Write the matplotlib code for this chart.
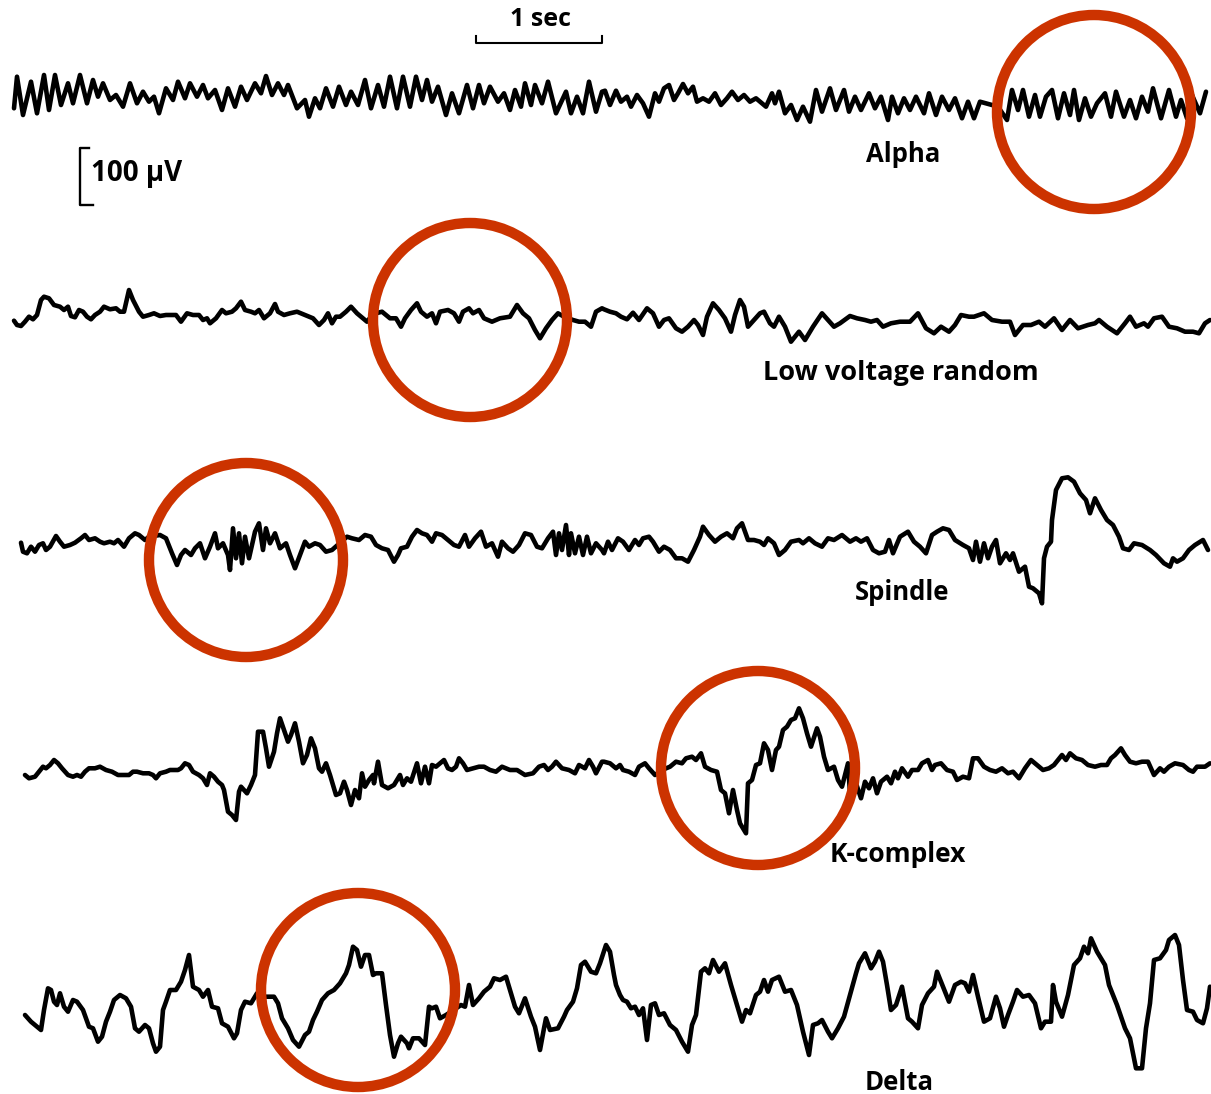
import numpy as np
import matplotlib
matplotlib.use("Agg")
import matplotlib.pyplot as plt
from matplotlib.patches import Circle

# ---------------- data: EEG traces ----------------
# each trace: (time in px along the page, deflection in px, upward positive)
alpha = [(14,-11.3),(17,20.3),(23,-18),(31,15.3),(37,-16.3),(44,22),(49,-13),(55,22),(61,-8),(68,13.7),(73,-6.3),(80,22),(87,-6.3),(93,17),(98,0.3),(103,13.7),(110,-3),(116,2),(123,-9.7),(130,13.7),(137,-6.3),(143,5.3),(149,-4.7),(154,0.3),(159,-16.3),(166,8.7),(173,-3),(178,15.3),(185,-1.3),(190,13.7),(197,0.3),(203,12),(208,-1.3),(215,7),(222,-13),(228,8.7),(235,-9.7),(241,10.3),(247,-3),(255,13.7),(261,3.7),(266,21),(272,2),(278,13.7),(284,2),(288,12),(297,-11.3),(305,-3),(309,-19.7),(315,-1.3),(320,-11.3),(326,8.7),(333,-9.7),(339,10.3),(346,-8),(351,5.3),(358,-8),(365,17),(371,-11.3),(378,12),(384,-9.7),(390,20.3),(397,-11.3),(403,20.3),(410,-9.7),(416,20.3),(422,-3),(427,17),(432,-4.7),(438,10.3),(446,-18),(452,3.7),(459,-16.3),(467,12),(473,-11.3),(479,12),(484,-6.3),(490,10.3),(498,-4.7),(504,3.7),(510,-13),(515,7),(521,-9.7),(525,13.7),(531,-8),(535,12),(542,-6.3),(548,15.3),(556,-16.3),(566,5.3),(571,-16.3),(577,0.3),(583,-16.3),(589,15.3),(596,-14.7),(602,5.3),
         (605,6.3),(610,-8),(616,6.3),(621,-4.7),(627,0.3),(631,-9.7),(637,2),(643,-6.3),(649,-19.7),(655,3.7),(659,-4.7),(664,8.7),(669,12),(674,-3),(678,3.7),(683,13),(688,3.7),(693,10.3),(697,-4.7),(703,-1.3),(709,-4.7),(715,3.7),(721,-8),(727,-1.3),(732,5.3),(738,-3),(744,2),(750,-4.7),(756,-1.3),(762,-6.3),(766,-9.7),(772,3.7),(775,-6.3),(779,5.3),(785,-16.3),(791,-8),(797,-23),(803,-9.7),(810,-24.7),(816,7),(822,-14.7),(830,8.7),(836,-13),(844,7),(849,-14.7),(855,0.3),(861,-13),(869,3.7),(875,-11.3),(881,0.3),(888,-23),(892,0.3),(898,-16.3),(904,-1.3),(910,-13),(916,0.3),(924,-16.3),(929,3.7),(936,-18),(942,0.3),(949,-13),(955,-1.3),(962,-21.3),(968,-4.7),(974,-21.3),(980,-4.7),(986,-6.3),(992,-8),(998,-9.7),(1007,-23),(1012,7),(1018,-13),(1023,7),(1029,-19.7),(1035,2),(1040,-19.7),(1046,0.3),(1052,7),(1058,-21.3),(1064,3.7),(1070,-18),(1074,7),(1079,-23),(1085,-1.3),(1091,-19.7),(1097,-6.3),(1105,3.7),(1111,-19.7),(1116,5.3),(1124,-19.7),(1130,-3),(1136,-21.3),(1142,0.3),(1148,-14.7),(1153,8.7),(1161,-21.3),(1169,7),(1176,-19.7),(1181,-3),(1187,-21.3),(1192,2),(1200,-16.3),(1206,5.3)]

low_voltage = [(14,-2.7),(17,-7),(21,-8),(25,-3.7),(29,1.3),(33,-1.3),(37,3),(41,18),(44,21.3),(49,19.7),(54,13),(60,11.3),(64,8),(68,11.3),(71,2),(75,0.7),(79,8),(83,6.3),(87,1.3),(91,-1.3),(95,3),(100,6.3),(104,11.3),(110,8.7),(116,9.7),(120,6.3),(124,6.3),(129,28),(133,18),(139,6.3),(143,1.3),(149,3),(154,4.7),(160,2),(166,3),(176,3),(181,-3.7),(187,4.7),(193,3),(199,3),(203,-2),(207,-0.3),(210,-5.3),(216,-0.3),(222,8),(226,4.7),(232,6.3),(236,9.7),(241,16.3),(245,8),(251,6.3),(255,4.7),(259,8),(264,-0.3),(270,4.7),(275,14),(278,6.3),(284,3),(290,4.7),(297,6.3),(305,3),(313,-0.3),(319,-7),(324,-2),(328,4.7),(332,-5.3),(336,1.3),(340,1.3),(346,6.3),(351,11.3),(357,4.7),(363,-0.3),(367,-3.7),(371,1.3),(376,4.7),(382,6.3),(390,-0.3),(396,-0.3),(401,-8.7),(405,-0.3),(411,8),(417,14.7),(421,6.3),(427,1.3),(432,4.7),(436,-5.3),(440,6.3),(448,8),(454,4.7),(459,-3.7),(463,6.3),(469,9.7),(473,4.7),(479,8),(484,-0.3),(492,-3.7),(500,-0.3),(510,1.3),(517,13),(523,4.7),(529,-0.3),(535,-12),(540,-20.3),(546,-10.3),(552,-2),(558,4.7),(564,1.3),(573,-2),(579,-3.7),(585,-3.7),(591,-8.7),(596,6.3),(602,9.7),
               (604,8.7),(610,6.3),(616,4.7),(621,1.3),(627,-1.3),(633,5.3),(639,-2),(647,9.7),(653,4.7),(659,-8.7),(664,-2),(669,-0.3),(676,-10.3),(682,-13.7),(688,-8.7),(694,-2),(698,-7),(703,-17),(707,1.3),(713,14.7),(719,8),(725,-0.3),(731,-13.7),(735,3),(740,18),(744,11.3),(748,-8.7),(754,-2),(760,4.7),(764,6.3),(770,-5.3),(774,-8.7),(779,1.3),(785,-8.7),(791,-23.7),(799,-13.7),(805,-22),(813,-8.7),(822,4.7),(828,-2),(834,-8.7),(840,-5.3),(850,2),(857,-0.3),(865,-2),(871,-3.7),(877,-2),(883,-8.7),(891,-5.3),(900,-3.7),(910,-3.7),(918,4.7),(926,-10.3),(934,-15.3),(941,-8.7),(949,-13.7),(955,-7),(961,3),(969,1.3),(974,1.3),(984,4.7),(992,-2),(1002,-3.7),(1010,-3.7),(1015,-17),(1023,-7),(1031,-7),(1039,-3.7),(1045,-8.7),(1054,-0.3),(1062,-12),(1070,-2),(1078,-10.3),(1088,-7),(1095,-5.3),(1099,-2),(1107,-8.7),(1117,-15.3),(1125,-5.3),(1130,1.3),(1136,-8.7),(1144,-5.3),(1148,-8.7),(1154,-0.3),(1162,1.3),(1169,-8.7),(1177,-10.3),(1185,-13.7),(1193,-13.7),(1199,-15.3),(1205,-5.3),(1210,-2)]

spindle = [(21,2.3),(23,-6.7),(27,-8.3),(31,-1.7),(35,-6.7),(39,0),(43,1.7),(46,-5),(50,-1.7),(56,9),(60,3.3),(64,-1.7),(70,0),(75,2.3),(81,6.7),(85,10),(89,5),(95,6.7),(100,3.3),(104,1.7),(110,3.3),(114,1.7),(118,5),(124,-1.7),(129,6.7),(135,11.7),(139,10),(145,5),(149,8.3),(160,10),(166,6.7),(172,-8.3),(177,-20),(181,-10),(185,-5),(191,-10),(195,-3.3),(200,1.7),(205,-13.3),(210,-1.7),(215,11.7),(218,-3.3),(223,1.7),(228,-10),(230,-25),(233,16.7),(236,-13.3),(239,11.7),(242,-18.3),(245,8.3),(249,-13.3),(255,13.3),(259,21.7),(263,-5),(266,16.7),(270,1.7),(275,11.7),(280,-3.3),(286,1.7),(290,-10),(295,-23.3),(300,-10),(305,3.3),(309,-1.7),(315,1.7),(320,0),(326,-6.7),(332,-5),(347,8.3),(352,6.7),(359,5),(365,10),(371,8.3),(376,0),(382,-3.3),(388,-5),(394,-16.7),(398,-10),(401,-3.3),(407,-1.7),(412,8.3),(417,15),(422,11.7),(427,10),(432,3.3),(436,11.7),(442,10),(448,5),(454,0),(459,-1.7),(465,10),(469,-1.7),(475,6.7),(481,13.3),(486,-1.7),(492,1.7),(498,-11.7),(502,3.3),(508,-3.3),(513,-6.7),(519,0),(525,11.7),(531,10),(537,-1.7),(542,-3.3),(548,6.7),(553,13.3),(556,-10),(559,11.7),(562,-5),(566,20),(569,-10),(571,11.7),(575,-8.3),(579,8.3),(583,-10),(587,8.3),(591,-8.3),(596,1.7),(602,-5),
           (604,-8.3),(608,3.3),(612,-5),(618,6.7),(623,3.3),(629,-5),(635,5),(639,0),(643,6.7),(649,8.3),(653,3.3),(659,-6.7),(664,-1.7),(670,-5),(676,-13.3),(682,-13.3),(688,-16.7),(694,-5),(700,8.3),(703,18.3),(709,10),(715,3.3),(721,8.3),(727,11.7),(733,6.7),(737,16.7),(742,21.7),(748,5),(754,5),(760,3.3),(764,0),(768,6.7),(774,1.7),(779,-10),(785,-5),(791,3.3),(799,5),(803,1.7),(809,6.7),(815,1.7),(822,-1.7),(828,6.7),(834,5),(842,10),(850,3.3),(856,6.7),(861,3.3),(867,6.7),(873,-5),(879,-8.3),(885,-6.7),(889,5),(893,-8.3),(900,8.3),(908,13.3),(914,3.3),(920,-1.7),(926,-8.3),(932,10),(937,13.3),(943,16.7),(949,15),(955,5),(963,0),(969,-3.3),(973,-15),(976,3.3),(980,-16.7),(984,1.7),(988,-13.3),(992,-1.7),(996,5),(1000,-18.3),(1006,-8.3),(1010,-15),(1013,-8.3),(1019,-26.7),(1025,-21.7),(1029,-41.7),(1033,-43.3),(1039,-48.3),(1042,-58.3),(1044,-13.3),(1047,-1.7),(1051,3.3),(1052,25),(1056,55),(1062,66.7),(1068,67.7),(1074,63.3),(1080,51.7),(1086,45),(1090,31.7),(1095,46.7),(1101,35),(1107,25),(1113,20),(1119,8.3),(1123,-3.3),(1129,-5),(1134,1.7),(1142,0),(1150,-5),(1156,-10),(1164,-18.3),(1170,-21.7),(1173,-13.3),(1177,-16.7),(1183,-13.3),(1189,-5),(1195,0),(1203,5),(1208,-5)]

k_complex = [(25,-5),(29,-8.3),(35,-6.7),(39,-1.7),(43,3.3),(46,1.7),(50,5),(54,10),(58,6.7),(62,1.7),(68,-5),(73,-6.7),(77,-5),(81,-6.7),(85,-1.7),(89,1.7),(95,1.7),(100,3.3),(106,0),(112,-1.7),(118,-5),(124,-5),(129,-5),(133,-1.7),(137,-1.7),(143,-3.3),(149,-3.3),(153,-5),(156,-8.3),(160,-3.3),(166,-1.7),(170,0),(174,0),(178,0),(181,1.7),(185,6.7),(189,5),(193,-1.7),(199,-5),(203,-8.3),(207,-15),(210,-3.3),(214,-6.7),(218,-11.7),(222,-15),(224,-20),(228,-41.7),(232,-45),(236,-50),(239,-21.7),(241,-16.7),(247,-23.3),(251,-15),(255,-5),(258,38.3),(263,38.3),(266,21.7),(269,3.3),(274,18.3),(277,36.7),(280,51.7),(284,40),(288,28.3),(291,35),(295,46.7),(299,28.3),(303,6.7),(307,15),(311,31.7),(315,21.7),(319,1.7),(322,-1.7),(326,6.7),(330,-5),(336,-25),(340,-23.3),(344,-11.7),(347,-20),(351,-35),(355,-20),(359,-28.3),(362,-3.3),(365,-16.7),(369,-10),(373,-5),(374,-13.3),(378,8.3),(382,-15),(388,-18.3),(394,-15),(400,-5),(403,-15),(407,-8.3),(411,-11.7),(417,6.7),(421,-13.3),(425,3.3),(429,-13.3),(432,5),(436,3.3),(440,6.7),(444,10),(448,1.7),(452,0),(456,3.3),(459,11.7),(463,6.7),(467,0),(473,1.7),(479,3.3),(484,3.3),(490,0),(496,-1.7),(502,3.3),(510,0),(517,0),(525,-5),(533,-3.3),(539,3.3),(544,5),(548,0),(552,3.3),(556,8.3),(562,1.7),(569,0),(575,-3.3),(579,5),(585,1.7),(589,10),(593,3.3),(596,-3.3),(602,8.3),
             (604,8.3),(610,6.7),(616,1.7),(620,5),(623,0),(629,-1.7),(635,-5),(639,3.3),(645,6.7),(649,1.7),(655,-5),(662,0),(670,3.3),(676,8.3),(682,6.7),(686,11.7),(692,13.3),(696,10),(701,16.7),(705,3.3),(711,0),(717,-1.7),(721,-20),(725,-23.3),(729,-43.3),(733,-20),(737,-40),(740,-53.3),(746,-63.3),(748,-13.3),(752,-10),(756,5),(760,6.7),(764,26.7),(768,20),(772,0),(776,20),(779,23.3),(783,40),(787,43.3),(791,50),(795,51.7),(799,61.7),(803,51.7),(807,36.7),(811,23.3),(817,41.7),(820,33.3),(824,13.3),(828,0),(834,3.3),(838,-10),(842,-16.7),(848,6.7),(850,-23.3),(856,-13.3),(861,-28.3),(865,-11.7),(869,-18.3),(873,-8.3),(877,-23.3),(881,-11.7),(887,-6.7),(891,-13.3),(895,-1.7),(898,-8.3),(902,1.7),(908,-6.7),(912,0),(918,0),(922,6.7),(928,10),(932,0),(935,5),(941,6.7),(947,0),(953,-1.7),(957,-10),(963,-6.7),(969,-8.3),(973,11.7),(978,11.7),(984,3.3),(990,0),(996,-1.7),(1002,1.7),(1008,-3.3),(1013,-1.7),(1019,-8.3),(1025,1.7),(1031,10),(1037,5),(1043,0),(1049,1.7),(1054,5),(1062,15),(1066,10),(1070,16.7),(1076,11.7),(1082,10),(1088,5),(1095,3.3),(1101,5),(1107,5),(1111,11.7),(1115,15),(1121,21.7),(1125,15),(1130,8.3),(1136,6.7),(1142,8.3),(1148,8.3),(1154,-5),(1160,1.7),(1164,-1.7),(1169,3.3),(1175,6.7),(1183,5),(1189,0),(1193,-1.7),(1197,3.3),(1205,3.3),(1210,6.7)]

delta = [(25,-5),(31,-11.7),(37,-16.7),(41,-20),(44,0),(48,21.7),(51,20),(54,8.3),(57,5),(60,16.7),(64,3.3),(68,-1.7),(73,10),(77,8.3),(83,0),(89,-16.7),(93,-18.3),(98,-31.7),(102,-26.7),(106,-11.7),(110,-1.7),(114,10),(120,15),(126,11.7),(131,3.3),(135,-18.3),(139,-21.7),(145,-15),(149,-18.3),(153,-33.3),(156,-41.7),(160,-36.7),(163,0),(166,8.3),(170,20),(176,20),(181,28.3),(185,40),(189,55),(193,23.3),(199,20),(203,13.3),(208,20),(212,3.3),(218,1.7),(222,-13.3),(228,-16.7),(234,-28.3),(237,-23.3),(241,0),(245,8.3),(251,6.7),(257,16.7),(263,13.3),(274,13.3),(278,6.7),(282,-8.3),(288,-18.3),(293,-30),(299,-36.7),(305,-25),(309,-21.7),(313,-10),(317,-1.7),(322,10),(328,16.7),(334,20),(340,26.7),(346,36.7),(349,45),(353,63.3),(357,60),(361,43.3),(365,55),(369,55),(373,35),(376,36.7),(382,36.7),(386,5),(390,-25),(394,-46.7),(398,-33.3),(401,-26.7),(407,-33.3),(409,-38.3),(413,-28.3),(419,-28.3),(425,-35),(429,3.3),(432,1.7),(436,3.3),(440,-8.3),(446,-5),(461,5),(465,3.3),(469,25),(473,5),(479,11.7),(484,18.3),(490,23.3),(494,31.7),(500,30),(506,33.3),(510,20),(515,3.3),(519,-3.3),(525,11.7),(531,-6.7),(535,-16.7),(540,-40),(544,-18.3),(546,-8.3),(550,-20),(558,-18.3),(564,-6.7),(567,0),(573,8.3),(577,21.7),(581,45),(585,48.3),(591,38.3),(596,36.7),(600,46.7),
         (606,65),(610,58.3),(614,35),(616,25),(620,15),(623,10),(627,8.3),(631,1.7),(635,3.3),(639,-5),(643,1.7),(647,-30),(651,5),(655,6.7),(659,-5),(664,-3.3),(670,-15),(676,-20),(682,-31.7),(688,-41.7),(692,-15),(696,-5),(701,38.3),(705,41.7),(709,36.7),(713,50),(719,38.3),(725,46.7),(731,25),(737,5),(742,-11.7),(746,0),(750,-3.3),(756,15),(760,18.3),(764,30),(768,18.3),(772,30),(779,33.3),(785,18.3),(791,20),(797,5),(803,-21.7),(809,-45),(813,-15),(818,-13.3),(822,-10),(828,-21.7),(832,-28.3),(838,-18.3),(844,-6.7),(850,15),(856,36.7),(859,46.7),(865,56.7),(871,41.7),(875,48.3),(879,58.3),(883,48.3),(887,25),(891,0),(896,5),(902,23.3),(908,-8.3),(912,-11.7),(918,-18.3),(922,5),(928,16.7),(934,23.3),(937,38.3),(943,23.3),(949,8.3),(955,25),(961,28.3),(965,26.7),(969,18.3),(973,35),(978,13.3),(984,-11.7),(990,-8.3),(996,13.3),(1000,1.7),(1004,-16.7),(1008,-5),(1013,8.3),(1017,20),(1023,13.3),(1029,15),(1035,6.7),(1041,-18.3),(1045,-11.7),(1051,-11.7),(1053,25),(1056,8.3),(1062,-6.7),(1068,15),(1074,45),(1080,51.7),(1084,63.3),(1088,56.7),(1091,71.7),(1097,58.3),(1105,45),(1109,25),(1117,5),(1125,-18.3),(1130,-28.3),(1136,-58.3),(1142,-58.3),(1146,-18.3),(1150,6.7),(1154,50),(1160,51.7),(1166,60),(1169,70),(1175,75),(1179,65),(1183,30),(1187,0),(1193,-1.7),(1197,-10),(1203,-13.3),(1207,1.7),(1210,23.3)]

trace_names = ["Alpha", "Low voltage random", "Spindle", "K-complex", "Delta"]
traces = [alpha, low_voltage, spindle, k_complex, delta]
# highlighted episode (centre time) in each trace
highlight_t = [1094, 470, 246, 758, 358]

# ---------------- layout (pixels) ----------------
W, H = 1211, 1094
baselines = [97, 318, 545, 770, 1010]
label_pos = [(903, 155), (901, 373), (902, 592), (898, 855), (899, 1082)]
label_size = [18.5, 19.5, 18.5, 19, 18.5]
highlight_dy = [15, 2, 15, -2, -20]
radius = 97
red = "#CC3300"

fig = plt.figure(figsize=(W / 100, H / 100), dpi=100)
ax = fig.add_axes([0, 0, 1, 1])
ax.set_xlim(0, W)
ax.set_ylim(H, 0)
ax.axis("off")

font = dict(family=["Open Sans", "DejaVu Sans"], weight="bold", color="black")

for tr, base, name, lp, fs in zip(traces, baselines, trace_names, label_pos, label_size):
    arr = np.array(tr, dtype=float)
    ax.plot(arr[:, 0], base - arr[:, 1], color="black", lw=3.3,
            solid_joinstyle="round", solid_capstyle="round", zorder=2)
    ax.text(lp[0], lp[1], name, ha="center", va="center", fontsize=fs, **font)

for t, base, dy in zip(highlight_t, baselines, highlight_dy):
    ax.add_patch(Circle((t, base + dy), radius, fill=False, ec=red, lw=7.5, zorder=3))

# time scale bar: 1 sec
ax.plot([476, 476, 602, 602], [36, 43, 43, 36], color="black", lw=1.5)
ax.text(540, 19, "1 sec", ha="center", va="center", fontsize=18, **font)

# amplitude scale bar: 100 uV
ax.plot([89, 80, 80, 93], [148, 148, 205, 205], color="black", lw=1.7)
ax.text(91, 173, "100 \u03bcV", ha="left", va="center", fontsize=20, **font)

fig.savefig("out.png", dpi=100)
